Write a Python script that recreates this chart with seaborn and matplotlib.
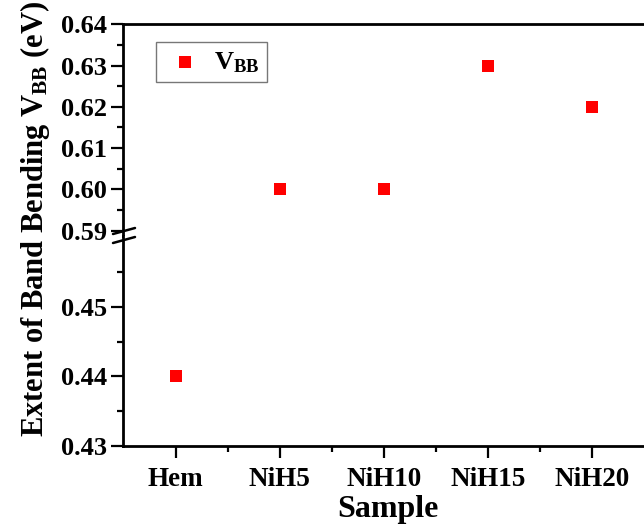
import matplotlib
matplotlib.use("Agg")
import matplotlib.pyplot as plt
from matplotlib.ticker import FixedLocator
from matplotlib.lines import Line2D
import seaborn as sns
import pandas as pd

samples = ["Hem", "NiH5", "NiH10", "NiH15", "NiH20"]
vbb = [0.44, 0.60, 0.60, 0.63, 0.62]
upper_ticks = [0.59, 0.60, 0.61, 0.62, 0.63, 0.64]
lower_ticks = [0.43, 0.44, 0.45]

df = pd.DataFrame({"Sample": samples, "VBB": vbb})

sns.set_theme(style="ticks")
plt.rcParams["font.family"] = ["Liberation Serif", "DejaVu Serif"]
plt.rcParams["font.weight"] = "bold"
plt.rcParams["mathtext.fontset"] = "custom"
plt.rcParams["mathtext.rm"] = "Liberation Serif:bold"
plt.rcParams["mathtext.bf"] = "Liberation Serif:bold"
plt.rcParams["mathtext.it"] = "Liberation Serif:bold:italic"
plt.rcParams["text.color"] = "black"
plt.rcParams["axes.labelcolor"] = "black"
plt.rcParams["xtick.color"] = "black"
plt.rcParams["ytick.color"] = "black"
plt.rcParams["xtick.labelcolor"] = "black"
plt.rcParams["ytick.labelcolor"] = "black"

W, H = 644, 524
fig = plt.figure(figsize=(W / 100, H / 100), dpi=100)

def fx(px):
    return px / W

def fy(py):
    return 1 - py / H

left = fx(123.5)
width = 1 - left
ax_up = fig.add_axes([left, fy(236), width, fy(24.3) - fy(236)])
ax_lo = fig.add_axes([left, fy(445.7), width, fy(236) - fy(445.7)], sharex=ax_up)

for ax in (ax_up, ax_lo):
    sns.scatterplot(data=df, x="Sample", y="VBB", ax=ax, marker="s", s=74,
                    color="#ff0000", edgecolor="none", linewidth=0,
                    label=r"V$_{\mathbf{BB}}$" if ax is ax_up else None)
    ax.set_xlim(-0.5, 4.5)
    ax.spines["right"].set_visible(False)
    for s in ax.spines.values():
        s.set_linewidth(2.0)
        s.set_color("black")
    ax.set_xlabel("")
    ax.set_ylabel("")
    ax.tick_params(axis="both", which="major", direction="out", length=8.5,
                   width=1.6, color="black", labelcolor="black")
    ax.tick_params(axis="both", which="minor", direction="out", length=4.5,
                   width=1.6, color="black")
    ax.tick_params(axis="y", which="major", labelsize=19, pad=3.5)
    ax.tick_params(right=False, top=False, which="both")

ax_up.set_ylim(0.58867, 0.64)
ax_up.yaxis.set_major_locator(FixedLocator(upper_ticks))
ax_up.yaxis.set_minor_locator(FixedLocator([0.595, 0.605, 0.615, 0.625, 0.635]))
ax_up.set_yticklabels([f"{t:.2f}" for t in upper_ticks])
ax_up.spines["bottom"].set_visible(False)
ax_up.tick_params(axis="x", which="both", bottom=False, labelbottom=False)

ax_lo.set_ylim(0.43, 0.46026)
ax_lo.yaxis.set_major_locator(FixedLocator(lower_ticks))
ax_lo.yaxis.set_minor_locator(FixedLocator([0.435, 0.445, 0.455]))
ax_lo.set_yticklabels([f"{t:.2f}" for t in lower_ticks])
ax_lo.spines["top"].set_visible(False)
ax_lo.xaxis.set_minor_locator(FixedLocator([0.5, 1.5, 2.5, 3.5]))
ax_lo.tick_params(axis="x", which="major", labelsize=19.5, pad=7)
for lab in ax_lo.get_xticklabels() + ax_lo.get_yticklabels() + ax_up.get_yticklabels():
    lab.set_fontweight("bold")

leg = ax_up.legend(loc="upper left", bbox_to_anchor=(0.0624, 0.9164),
                   borderaxespad=0, fancybox=False, frameon=True,
                   edgecolor="#555555", fontsize=19, handletextpad=0.3,
                   borderpad=0.3, handlelength=1.6, markerscale=1.0)
leg.get_frame().set_linewidth(1.0)

# break marks on the left spine
for y0 in (234, 243):
    fig.add_artist(Line2D([fx(113), fx(135)], [fy(y0), fy(y0 - 6)],
                          transform=fig.transFigure, color="black", lw=1.8))

fig.text(0.054, fy(218.5), r"Extent of Band Bending V$_{\mathbf{BB}}$ (eV)",
         rotation=90, ha="center", va="center", fontsize=22, fontweight="bold")
fig.text(fx(388), fy(517), "Sample", ha="center", va="baseline",
         fontsize=23, fontweight="bold")

fig.savefig("out.png", dpi=100)
